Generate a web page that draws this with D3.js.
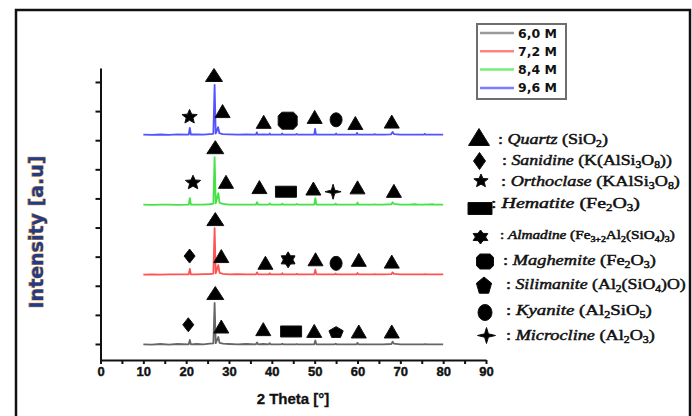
<!DOCTYPE html>
<html>
<head>
<meta charset="utf-8">
<script src="https://cdn.jsdelivr.net/npm/d3@7"></script>
<style>
  body { margin: 0; background: #fff; }
  svg { display: block; }
</style>
</head>
<body>
<div id="chart"></div>
<script>
// ---- data -------------------------------------------------------------
var seriesNames = ["6,0 M", "7,2 M", "8,4 M", "9,6 M"];
var seriesOffset = [-0.3, 23.7, 47.7, 71.8];   // stacking in a.u.

// diffractograms: [2 theta, intensity above own baseline]
var scan60 = [[10,0.2],[12,0.1],[14,0.3],[16,0.1],[18,0.3],[20.6,0.2],[20.85,1.7],[21.1,0.2],[22.5,0.3],[24,0.2],[25.5,0.4],[26.35,0.5],[26.64,14.4],[26.9,0.6],[27.25,1.8],[27.5,2.7],[27.8,0.7],[28.6,0.4],[30,0.3],[32,0.2],[34,0.3],[36.3,0.2],[36.55,0.8],[36.8,0.2],[38,0.3],[39.3,0.2],[39.5,0.6],[39.7,0.2],[41,0.2],[42.25,0.2],[42.45,0.4],[42.65,0.2],[44,0.2],[45.6,0.2],[45.8,0.3],[46,0.2],[48,0.2],[49.9,0.2],[50.15,1.5],[50.4,0.2],[52,0.2],[54.7,0.2],[54.9,0.4],[55.1,0.2],[57,0.2],[59.8,0.2],[60,0.7],[60.2,0.2],[62,0.2],[63.8,0.2],[64,0.2],[64.2,0.2],[66,0.2],[67.9,0.3],[68.2,1.1],[68.5,0.4],[70,0.2],[72,0.2],[74,0.2],[75.6,0.2],[75.8,0.3],[76,0.2],[78,0.2],[80,0.2]];
var scan72 = [[10,0.1],[12,0.2],[14,0.1],[16,0.2],[18,0.2],[20.6,0.2],[20.85,2.1],[21.1,0.2],[22.5,0.2],[24,0.3],[25.5,0.3],[26.35,0.5],[26.64,16.1],[26.9,0.6],[27.25,2.2],[27.5,3.4],[27.8,0.7],[28.6,0.4],[30,0.2],[32,0.3],[34,0.2],[36.3,0.2],[36.55,0.9],[36.8,0.2],[38,0.2],[39.3,0.2],[39.5,0.6],[39.7,0.2],[41,0.2],[42.25,0.2],[42.45,0.6],[42.65,0.2],[44,0.2],[45.6,0.2],[45.8,0.4],[46,0.2],[48,0.2],[49.9,0.2],[50.15,1.8],[50.4,0.2],[52,0.2],[54.7,0.2],[54.9,0.5],[55.1,0.2],[57,0.2],[59.8,0.2],[60,0.7],[60.2,0.2],[62,0.2],[63.8,0.2],[64,0.3],[64.2,0.2],[66,0.2],[67.9,0.3],[68.2,0.9],[68.5,0.4],[70,0.2],[72,0.2],[74,0.2],[75.6,0.2],[75.8,0.3],[76,0.2],[78,0.2],[80,0.2]];
var scan84 = [[10,0.2],[12,0.1],[14,0.2],[16,0.2],[18,0.1],[20.6,0.2],[20.85,2.4],[21.1,0.2],[22.5,0.2],[24,0.2],[25.5,0.3],[26.35,0.5],[26.64,16.5],[26.9,0.6],[27.25,2.6],[27.5,4.1],[27.8,0.8],[28.6,0.4],[30,0.2],[32,0.2],[34,0.2],[36.3,0.2],[36.55,1.0],[36.8,0.2],[38,0.2],[39.3,0.2],[39.5,0.6],[39.7,0.2],[41,0.2],[42.25,0.2],[42.45,0.5],[42.65,0.2],[44,0.2],[45.6,0.2],[45.8,0.4],[46,0.2],[48,0.2],[49.9,0.2],[50.15,2.4],[50.4,0.2],[52,0.2],[54.7,0.2],[54.9,0.5],[55.1,0.2],[57,0.2],[59.8,0.2],[60,0.9],[60.2,0.2],[62,0.2],[63.8,0.2],[64,0.3],[64.2,0.2],[66,0.2],[67.9,0.3],[68.2,1.0],[68.5,0.4],[70,0.2],[72,0.2],[73.5,0.3],[74,0.2],[75.6,0.2],[75.8,0.3],[76,0.2],[77.6,0.3],[78,0.2],[80,0.2]];
var scan96 = [[10,0.1],[12,0.0],[14,0.15],[16,0.05],[18,0.2],[20.6,0.1],[20.85,2.4],[21.1,0.15],[22.5,0.2],[24,0.1],[25.5,0.3],[26.35,0.4],[26.64,17.2],[26.9,0.5],[27.2,1.6],[27.45,2.7],[27.75,0.6],[28.5,0.3],[30,0.2],[32,0.1],[34,0.15],[36.3,0.1],[36.5,0.9],[36.7,0.1],[38,0.15],[39.3,0.1],[39.5,0.5],[39.7,0.1],[41,0.1],[42.2,0.1],[42.4,0.5],[42.6,0.1],[44,0.1],[45.6,0.1],[45.8,0.35],[46,0.1],[48,0.1],[49.9,0.1],[50.1,2.1],[50.3,0.1],[52,0.1],[54.8,0.1],[55,0.5],[55.2,0.1],[57,0.1],[59.7,0.1],[59.9,0.7],[60.1,0.1],[62,0.1],[63.8,0.1],[64,0.3],[64.2,0.1],[66,0.1],[67.8,0.2],[68.2,1.0],[68.5,0.3],[70,0.1],[72,0.1],[74,0.1],[75.5,0.1],[75.7,0.4],[75.9,0.1],[78,0.1],[80,0.1]];
var scans = [scan60, scan72, scan84, scan96];

// phase marks: [phase, 2 theta, height above baseline]
var marks60 = [["Quartz",26.8,17.8],["Sanidine",20.5,6.9],["Quartz",28.2,6.3],["Quartz",38,5.4],["Hematite",44.5,4.6],["Quartz",49.9,4.8],["Silimanite",55,4.2],["Quartz",60.3,4.6],["Quartz",68,4.6]];
var marks72 = [["Quartz",26.8,19.2],["Sanidine",20.8,6.5],["Quartz",28.2,6.5],["Quartz",38.5,4.2],["Almadine",43.8,5.2],["Quartz",50.2,5.4],["Kyanite",55,4.0],["Quartz",60.3,5.2],["Quartz",68,4.6]];
var marks84 = [["Quartz",26.8,19.9],["Orthoclase",21.6,7.7],["Quartz",29.3,8.0],["Quartz",37.1,6.2],["Hematite",43.3,4.6],["Quartz",49.7,5.7],["Microcline",54.3,4.6],["Quartz",60,6.1],["Quartz",68.5,4.9]];
var marks96 = [["Quartz",26.5,20.6],["Orthoclase",20.8,6.2],["Quartz",28.5,8.2],["Quartz",38.1,4.5],["Maghemite",43.7,4.9],["Quartz",50,6.2],["Kyanite",55,5.2],["Quartz",59.5,4.1],["Quartz",68,4.6]];
var marks = [marks60, marks72, marks84, marks96];

var phases = ["Quartz","Sanidine","Orthoclase","Hematite","Almadine","Maghemite","Silimanite","Kyanite","Microcline"];
// formula pieces: [text, "sub" or ""]
var formulas = [
  [["(SiO",""],["2","sub"],[")",""]],
  [["(K(AlSi",""],["3","sub"],["O",""],["8","sub"],["))",""]],
  [["(KAlSi",""],["3","sub"],["O",""],["8","sub"],[")",""]],
  [["(Fe",""],["2","sub"],["O",""],["3","sub"],[")",""]],
  [["(Fe",""],["3+2","sub"],["Al",""],["2","sub"],["(SiO",""],["4","sub"],[")",""],["3","sub"],[")",""]],
  [["(Fe",""],["2","sub"],["O",""],["3","sub"],[")",""]],
  [["(Al",""],["2","sub"],["(SiO",""],["4","sub"],[")O)",""]],
  [["(Al",""],["2","sub"],["SiO",""],["5","sub"],[")",""]],
  [["(Al",""],["2","sub"],["O",""],["3","sub"],[")",""]]
];

var xTickValues = [0,5,10,15,20,25,30,35,40,45,50,55,60,65,70,75,80,85,90];
var yTickValues = [0,10,20,30,40,50,60,70,80,90];

// ---- layout -----------------------------------------------------------
var W = 692, H = 416;
var lineColor = ["#666666", "#ff5252", "#45e245", "#5252ff"];
var keyColor = ["#9a9a9a", "#ff8383", "#78ee78", "#7d7dff"];
var shapeOf = {Quartz:"tri", Sanidine:"diamond", Orthoclase:"star5", Hematite:"rect",
  Almadine:"star6", Maghemite:"oct", Silimanite:"penta", Kyanite:"ellipse", Microcline:"cross4"};
var plotSize = {tri:[15,13], diamond:[11,14], star5:[16,15], rect:[21,11], star6:[16,16],
  oct:[19,17], penta:[15,12], ellipse:[12,14], cross4:[16,15]};
var keySize = {tri:[21,17], diamond:[12,17], star5:[15,14], rect:[24,12], star6:[17,14],
  oct:[17,15], penta:[16,18], ellipse:[14,16], cross4:[18,16]};

var svg = d3.select("#chart").append("svg")
  .attr("width", W).attr("height", H);

// outer frame
svg.append("rect")
  .attr("x", 16).attr("y", 10).attr("width", 674).attr("height", 430)
  .attr("fill", "none").attr("stroke", "#111").attr("stroke-width", 2.5);

var x = d3.scaleLinear().domain([0, 90]).range([100.5, 486]);
var y = d3.scaleLinear().domain([-5.5, 94.8]).range([360, 68]);

// y axis (no labels)
svg.append("g")
  .attr("transform", "translate(" + x(0) + ",0)")
  .call(d3.axisLeft(y).tickValues(yTickValues).tickFormat("").tickSize(5).tickSizeOuter(0))
  .call(g => g.selectAll("path, line").attr("stroke", "#111").attr("stroke-width", 2));

// x axis
svg.append("g")
  .attr("transform", "translate(0," + y(-5.5) + ")")
  .call(d3.axisBottom(x).tickValues(xTickValues)
    .tickFormat(d => d % 10 === 0 ? d : "").tickSize(4).tickSizeOuter(0).tickPadding(3))
  .call(g => g.selectAll("path, line").attr("stroke", "#111").attr("stroke-width", 2))
  .call(g => g.selectAll("text")
    .attr("fill", "#111").attr("stroke", "#111").attr("stroke-width", 0.4)
    .style("font", "bold 13px 'Liberation Sans', Arial, sans-serif"));

svg.append("text")
  .attr("x", 293).attr("y", 404).attr("text-anchor", "middle")
  .attr("fill", "#111").attr("stroke", "#111").attr("stroke-width", 0.3)
  .style("font", "bold 15px 'Liberation Sans', Arial, sans-serif")
  .text("2 Theta [°]");

svg.append("text")
  .attr("transform", "translate(43,232) rotate(-90)")
  .attr("text-anchor", "middle")
  .attr("fill", "#1f3d86").attr("stroke", "#e59a3c").attr("stroke-width", 1)
  .style("paint-order", "stroke")
  .style("font", "bold 19px 'DejaVu Sans', sans-serif")
  .text("Intensity [a.u]");

// spectra
scans.forEach(function (scan, i) {
  svg.append("path")
    .datum(scan)
    .attr("fill", "none")
    .attr("stroke", lineColor[i])
    .attr("stroke-width", 1.8)
    .attr("stroke-linejoin", "round")
    .attr("d", d3.line()
      .x(d => x(d[0]))
      .y(d => y(d[1] + seriesOffset[i])));
});

// marker shapes centred on 0,0
function poly(n, inner, w, h) {
  var pts = [], k = inner ? 2 * n : n;
  for (var j = 0; j < k; j++) {
    var a = -Math.PI / 2 + j * 2 * Math.PI / k;
    var r = (inner && j % 2) ? inner : 1;
    pts.push([Math.cos(a) * r * w / 2, Math.sin(a) * r * h / 2]);
  }
  return "M" + pts.map(p => p[0].toFixed(2) + "," + p[1].toFixed(2)).join("L") + "Z";
}
function shapePath(type, w, h) {
  switch (type) {
    case "tri": return "M0," + (-h / 2) + "L" + (w / 2) + "," + (h / 2) + "L" + (-w / 2) + "," + (h / 2) + "Z";
    case "diamond": return "M0," + (-h / 2) + "L" + (w / 2) + ",0L0," + (h / 2) + "L" + (-w / 2) + ",0Z";
    case "rect": return "M" + (-w / 2) + "," + (-h / 2) + "h" + w + "v" + h + "h" + (-w) + "Z";
    case "ellipse": return "M" + (-w / 2) + ",0A" + (w / 2) + "," + (h / 2) + " 0 1,0 " + (w / 2) + ",0A" + (w / 2) + "," + (h / 2) + " 0 1,0 " + (-w / 2) + ",0Z";
    case "star5": return poly(5, 0.45, w, h);
    case "star6": return poly(6, 0.6, w, h);
    case "cross4": return poly(4, 0.3, w, h);
    case "penta": return poly(5, 0, w, h);
    case "oct": {
      var a = w / 2, b = h / 2, c = w * 0.2, e = h * 0.22;
      return "M" + (-a + c) + "," + (-b) + "H" + (a - c) + "L" + a + "," + (-b + e) + "V" + (b - e) +
        "L" + (a - c) + "," + b + "H" + (-a + c) + "L" + (-a) + "," + (b - e) + "V" + (-b + e) + "Z";
    }
  }
}

marks.forEach(function (list, i) {
  svg.append("g").selectAll("path")
    .data(list)
    .join("path")
    .attr("transform", d => "translate(" + x(d[1]) + "," + y(d[2] + seriesOffset[i]) + ")")
    .attr("d", function (d) {
      var t = shapeOf[d[0]], s = plotSize[t];
      if (t === "tri" && d[2] > 15) s = [17, 13];
      return shapePath(t, s[0], s[1]);
    })
    .attr("fill", "#000").attr("stroke", "#111").attr("stroke-width", 1)
    .attr("stroke-linejoin", "round");
});

// line legend
var key = svg.append("g");
key.append("rect")
  .attr("x", 477).attr("y", 24).attr("width", 89).attr("height", 75)
  .attr("fill", "#fff").attr("stroke", "#6e6e6e").attr("stroke-width", 2);
seriesNames.forEach(function (name, i) {
  var ky = 33 + i * 18.3;
  key.append("line")
    .attr("x1", 480).attr("x2", 514).attr("y1", ky).attr("y2", ky)
    .attr("stroke", keyColor[i]).attr("stroke-width", 2.5);
  key.append("text")
    .attr("x", 518).attr("y", ky + 4.5)
    .attr("fill", "#111")
    .style("font", "bold 12.5px 'DejaVu Sans', sans-serif")
    .text(name);
});

// phase legend
var symX = [479, 479.5, 481, 480, 480.5, 485, 484, 485, 486.5];
var symY = [137, 161, 181, 208.5, 237, 261.5, 286, 312.5, 335.5];
var txtX0 = [498, 502, 501, 491, 500, 503, 506, 506, 506];
var txtX1 = [608, 672, 680, 640, 675, 656, 686, 652, 655];
var txtY = [144, 165, 186, 208, 239, 265, 289, 315, 340];

phases.forEach(function (ph, i) {
  var t = shapeOf[ph], s = keySize[t];
  svg.append("path")
    .attr("transform", "translate(" + symX[i] + "," + symY[i] + ")")
    .attr("d", shapePath(t, s[0], s[1]))
    .attr("fill", "#000").attr("stroke", "#111").attr("stroke-width", 1)
    .attr("stroke-linejoin", "round");

  var fs = ph === "Almadine" ? 12 : 15.5;
  var sub = fs * 0.65, drop = fs * 0.22;
  var txt = svg.append("text")
    .attr("fill", "#111").attr("stroke", "#111").attr("stroke-width", 0.5)
    .style("font-family", "'Liberation Serif', 'Times New Roman', serif")
    .style("font-size", fs + "px");
  txt.append("tspan").text(": ");
  txt.append("tspan").style("font-style", "italic").text(ph);
  txt.append("tspan").text(" ");
  var low = false;
  formulas[i].forEach(function (piece) {
    var ts = txt.append("tspan").text(piece[0]);
    if (piece[1] === "sub") {
      ts.style("font-size", sub + "px").attr("dy", low ? 0 : drop);
      low = true;
    } else {
      ts.attr("dy", low ? -drop : 0);
      low = false;
    }
  });
  var len = txt.node().getComputedTextLength();
  var sx = (txtX1[i] - txtX0[i]) / len;
  txt.attr("transform", "translate(" + txtX0[i] + "," + txtY[i] + ") scale(" + sx + ",1)");
});
</script>
</body>
</html>
